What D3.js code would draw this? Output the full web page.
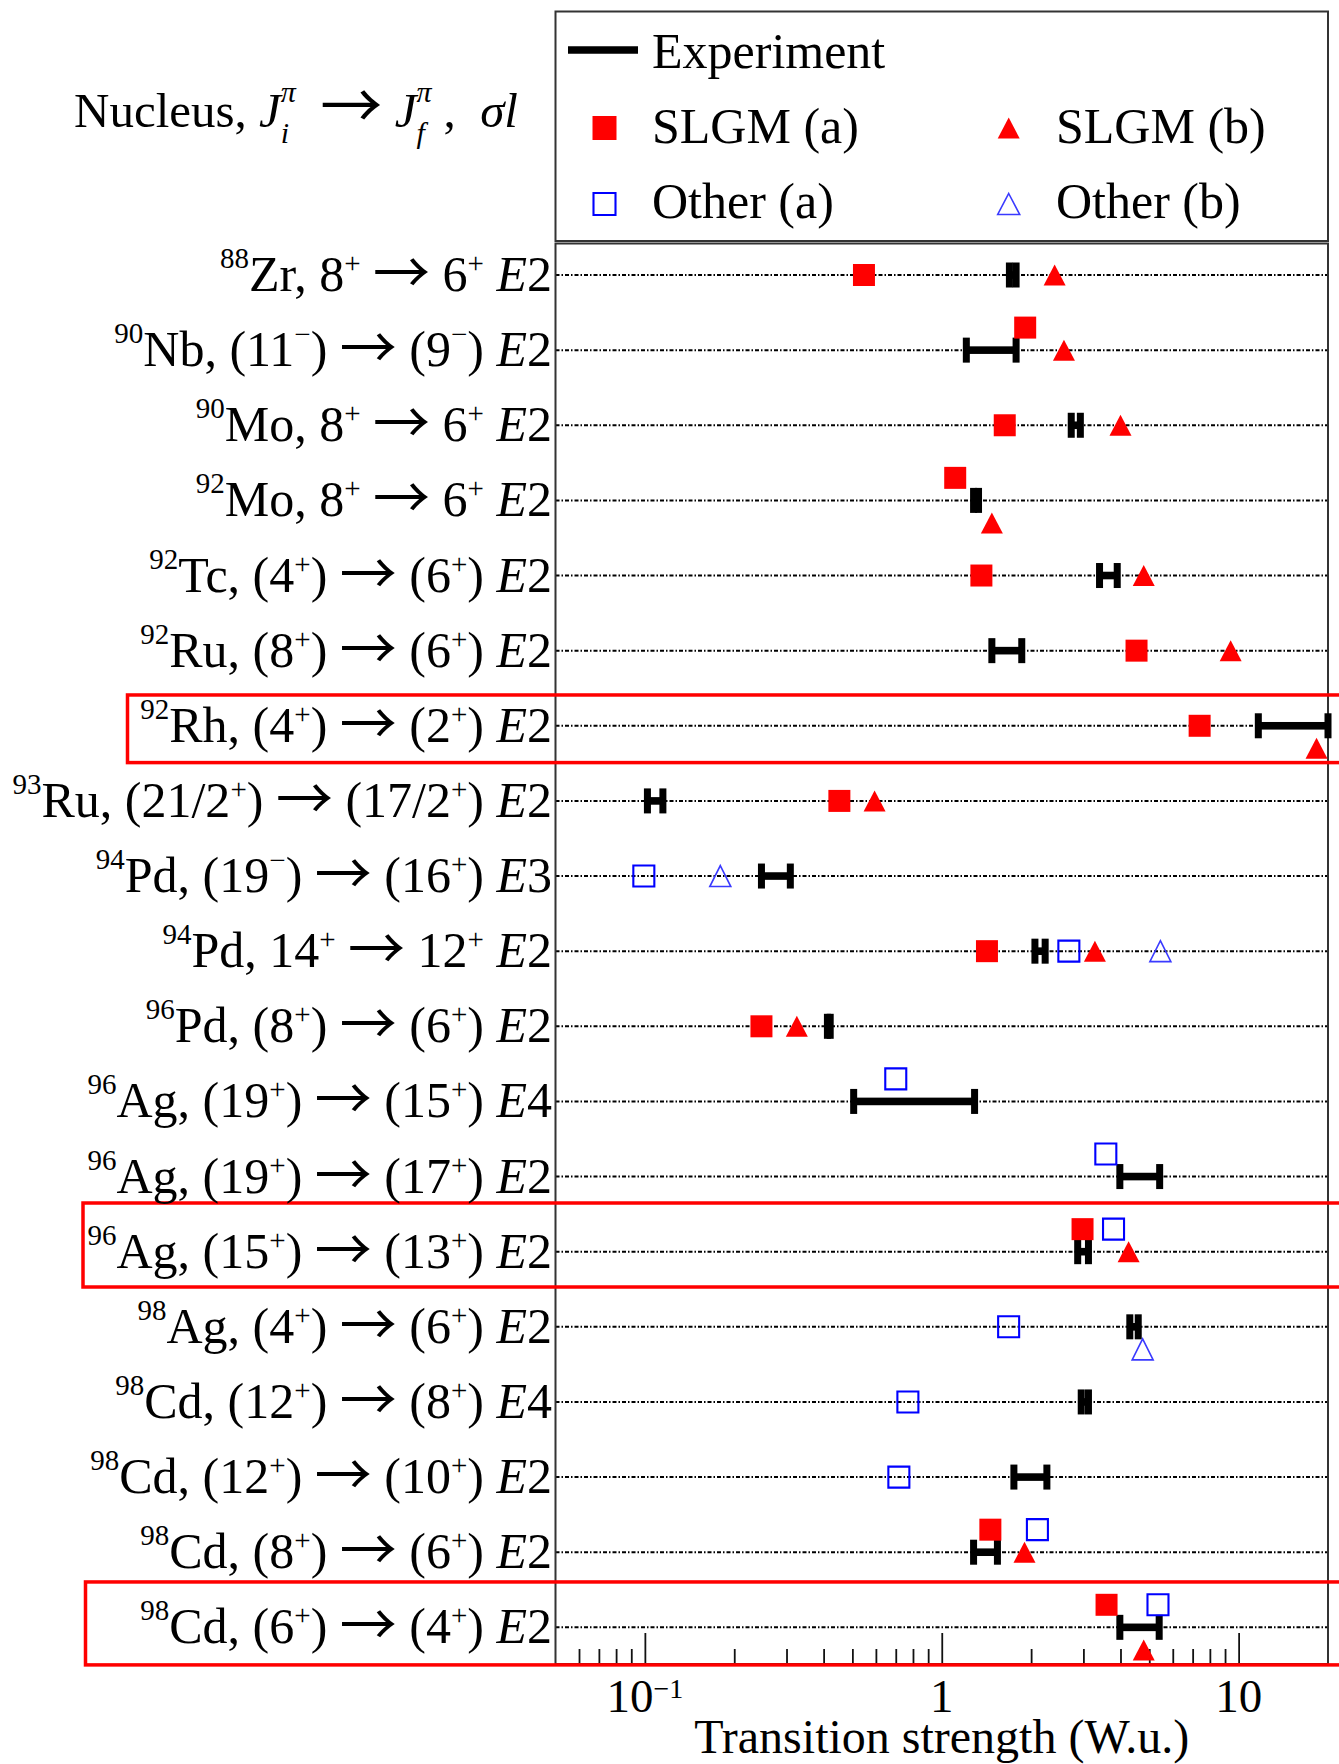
<!DOCTYPE html>
<html><head><meta charset="utf-8">
<script src="https://cdn.jsdelivr.net/npm/d3@7"></script>
<style>
html,body{margin:0;padding:0;background:#fff;}
svg{display:block;}
text{font-family:"Liberation Serif","Times New Roman",serif;fill:#000;white-space:pre;}
.arrow{font-family:"Noto Sans CJK JP","Noto Sans CJK SC",sans-serif;}
</style></head><body>
<svg id="chart" width="1339" height="1764"></svg>
<script>
// ---------------- data ----------------
const massNumbers = ["88","90","90","92","92","92","92","93","94","94","96","96","96","96","98","98","98","98","98"];
const elements = ["Zr","Nb","Mo","Mo","Tc","Ru","Rh","Ru","Pd","Pd","Pd","Ag","Ag","Ag","Ag","Cd","Cd","Cd","Cd"];
const initialSpins = ["8","11","8","8","4","8","4","21/2","19","14","8","19","19","15","4","12","12","8","6"];
const initialParities = ["+","\u2212","+","+","+","+","+","+","\u2212","+","+","+","+","+","+","+","+","+","+"];
const finalSpins = ["6","9","6","6","6","6","2","17/2","16","12","6","15","17","13","6","8","10","6","4"];
const finalParities = ["+","\u2212","+","+","+","+","+","+","+","+","+","+","+","+","+","+","+","+","+"];
const tentative = [false,true,false,false,true,true,true,true,true,false,true,true,true,true,true,true,true,true,true];
const multipolarities = ["E2","E2","E2","E2","E2","E2","E2","E2","E3","E2","E2","E4","E2","E2","E2","E4","E2","E2","E2"];

const expLow  = [1.69,1.21,2.73,1.28,3.40,1.475,11.65,0.102,0.247,2.06,0.412,0.505,3.98,2.87,4.30,2.95,1.75,1.28,3.98];
const expHigh = [1.78,1.78,2.93,1.33,3.90,1.86,20.0,0.115,0.309,2.23,0.421,1.29,5.42,3.12,4.59,3.12,2.26,1.54,5.40];

const slgmA      = [0.547,1.91,1.63,1.11,1.36,4.53,7.39,0.452,null,1.42,0.247,null,null,2.98,null,null,null,1.458,3.59];
const slgmAShift = [0,-0.3,0,-0.3,0,0,0,0,0,0,0,0,0,-0.3,0,0,0,-0.3,-0.3];
const slgmB      = [2.40,2.58,4.00,1.475,4.79,9.40,18.3,0.594,null,3.28,0.325,null,null,4.26,null,null,null,1.90,4.79];
const slgmBShift = [0,0,0,0.3,0,0,0.3,0,0,0,0,0,0,0,0,0,0,0,0.3];
const otherA      = [null,null,null,null,null,null,null,null,0.0992,2.68,null,0.70,3.57,3.79,1.68,0.769,0.717,2.10,5.35];
const otherAShift = [0,0,0,0,0,0,0,0,0,0,0,-0.3,-0.3,-0.3,0,0,0,-0.3,-0.3];
const otherB      = [null,null,null,null,null,null,null,null,0.1795,5.45,null,null,null,null,4.75,null,null,null,null];
const otherBShift = [0,0,0,0,0,0,0,0,0,0,0,0,0,0,0.3,0,0,0,0];

const majorTicks = [0.1,1,10];
const majorTickLabels = [["10","\u22121"],["1",""],["10",""]];
const minorTicks = [0.06,0.07,0.08,0.09,0.2,0.3,0.4,0.5,0.6,0.7,0.8,0.9,2,3,4,5,6,7,8,9];
const highlightRows = [6,13,18];
const highlightExtents = [[5.59,6.49],[12.352,13.47],[17.396,18.50]];

const legendItems = ["Experiment","SLGM (a)","SLGM (b)","Other (a)","Other (b)"];
const xTitle = "Transition strength (W.u.)";

// ---------------- layout ----------------
const plot = {left:555.5, right:1328, top:243.5, bottom:1664};
const svg = d3.select("#chart");
const x = d3.scaleLog().domain([0.05,20]).range([plot.left, plot.right]);
const y = d3.scaleLinear().domain([-0.426,18.488]).range([243,1664]);
const rows = d3.range(massNumbers.length);

const RED = "#ff0000", BLUE = "#0000ff";
function triPath(w,h){ return `M0,${-h/2}L${w/2},${h/2}L${-w/2},${h/2}Z`; }
function sqPath(s){ return `M${-s/2},${-s/2}h${s}v${s}h${-s}Z`; }

// grid (dotted row lines)
svg.append("g").selectAll("line").data(rows).join("line")
  .attr("x1",plot.left).attr("x2",plot.right)
  .attr("y1",d=>y(d)).attr("y2",d=>y(d))
  .attr("stroke","#000").attr("stroke-width",2)
  .attr("stroke-dasharray","4,2,1.5,2");

// axis ticks
const axG = svg.append("g").attr("transform",`translate(0,${plot.bottom})`);
axG.call(d3.axisBottom(x).tickValues(majorTicks).tickSizeInner(-31).tickSizeOuter(0).tickFormat(""));
const axMinor = svg.append("g").attr("transform",`translate(0,${plot.bottom})`);
axMinor.call(d3.axisBottom(x).tickValues(minorTicks).tickSizeInner(-15).tickSizeOuter(0).tickFormat(""));
[axG,axMinor].forEach(g=>{ g.select(".domain").remove(); g.selectAll(".tick line").attr("stroke","#111").attr("stroke-width",1.8); });

// frame
svg.append("rect").attr("x",plot.left).attr("y",plot.top).attr("width",plot.right-plot.left).attr("height",plot.bottom-plot.top)
  .attr("fill","none").attr("stroke","#333").attr("stroke-width",2);
// legend box
svg.append("rect").attr("x",plot.left).attr("y",11.5).attr("width",plot.right-plot.left).attr("height",229.5)
  .attr("fill","none").attr("stroke","#333").attr("stroke-width",2);

// tick labels
majorTicks.forEach((v,i)=>{
  const t = svg.append("text").attr("x",x(v)).attr("y",1711.7).attr("text-anchor","middle").style("font-size","47px");
  t.append("tspan").text(majorTickLabels[i][0]);
  if(majorTickLabels[i][1]) t.append("tspan").attr("font-size",28).attr("dy",-14).text(majorTickLabels[i][1]);
});
svg.append("text").attr("x",(plot.left+plot.right)/2).attr("y",1753).attr("text-anchor","middle")
  .style("font-size","48px").text(xTitle);

// experiment bars
const eg = svg.append("g");
rows.forEach(i=>{
  const x1=x(expLow[i]), x2=x(expHigh[i]), yy=y(i);
  eg.append("rect").attr("x",x1).attr("y",yy-3.8).attr("width",Math.max(0,x2-x1)).attr("height",7.6).attr("fill","#000");
  [x1,x2].forEach(cx=>eg.append("rect").attr("x",cx-3.5).attr("y",yy-12.5).attr("width",7).attr("height",25).attr("fill","#000"));
});

// markers
function drawSeries(vals, shifts, path, fill, stroke, sw){
  svg.append("g").selectAll("path").data(rows.filter(i=>vals[i]!=null)).join("path")
    .attr("transform",i=>`translate(${x(vals[i])},${y(i+shifts[i])})`)
    .attr("d",path).attr("fill",fill).attr("stroke",stroke).attr("stroke-width",sw);
}
drawSeries(slgmA, slgmAShift, sqPath(22), RED, "none", 0);
drawSeries(slgmB, slgmBShift, triPath(22,21), RED, "none", 0);
drawSeries(otherA, otherAShift, sqPath(21), "none", BLUE, 2.1);
drawSeries(otherB, otherBShift, triPath(21,21), "none", "#3a3aff", 1.6);

// highlight boxes
highlightRows.forEach((r,k)=>{
  const lefts=[127.5,83,85.5];
  const t=y(highlightExtents[k][0]), b=y(highlightExtents[k][1]);
  svg.append("rect").attr("x",lefts[k]).attr("y",t).attr("width",1360-lefts[k]).attr("height",b-t)
    .attr("fill","none").attr("stroke",RED).attr("stroke-width",3.5);
});

// row labels
rows.forEach(i=>{
  const t = svg.append("text").attr("x",552).attr("y",y(i)+16).attr("text-anchor","end").style("font-size","50px");
  const sup=29, riseA=23;
  const rp = p => p==="+"?18:22;
  const p = tentative[i];
  t.append("tspan").attr("font-size",sup).attr("dy",-riseA).text(massNumbers[i]);
  t.append("tspan").attr("dy",riseA).text(elements[i]+", "+(p?"(":"")+initialSpins[i]);
  t.append("tspan").attr("font-size",sup).attr("dy",-rp(initialParities[i])).text(initialParities[i]);
  t.append("tspan").attr("dy",rp(initialParities[i])).text((p?")":"")+" ");
  t.append("tspan").attr("class","arrow").attr("font-size",57).attr("dy",2).text("\u2192");
  t.append("tspan").attr("dy",-2).text(" "+(p?"(":"")+finalSpins[i]);
  t.append("tspan").attr("font-size",sup).attr("dy",-rp(finalParities[i])).text(finalParities[i]);
  t.append("tspan").attr("dy",rp(finalParities[i])).text((p?")":"")+" ");
  t.append("tspan").attr("font-style","italic").text(multipolarities[i][0]);
  t.append("tspan").text(multipolarities[i].slice(1));
});

// header
(function(){
  let cx=74; const yb=127, fs=49, ss=30;
  function put(txt,size,italic,dy,cls){
    const t=svg.append("text").attr("x",cx).attr("y",yb+(dy||0)).style("font-size",size+"px")
      .style("font-style",italic?"italic":"normal").text(txt);
    if(cls) t.attr("class",cls);
    return t.node().getComputedTextLength();
  }
  cx+=put("Nucleus, ",fs,false);
  cx+=put("J",fs,true);
  cx+=Math.max(put("\u03c0",ss,true,-25), put("i",ss,true,16));
  cx+=put("  ",fs,false);
  cx+=put("\u2192",62,false,2,"arrow");
  cx+=put(" ",fs,false);
  cx+=put("J",fs,true);
  cx+=Math.max(put("\u03c0",ss,true,-25), put("f",ss,true,16));
  cx+=12;
  cx+=put(",  ",fs,false);
  cx+=put("\u03c3",fs,true);
  put("l",fs,true);
})();

// legend
const lg = svg.append("g");
lg.append("line").attr("x1",568).attr("x2",638).attr("y1",50).attr("y2",50).attr("stroke","#000").attr("stroke-width",7.7);
lg.append("path").attr("transform","translate(604.5,128)").attr("d",sqPath(24)).attr("fill",RED);
lg.append("path").attr("transform","translate(1008.7,128)").attr("d",triPath(22,21)).attr("fill",RED);
lg.append("path").attr("transform","translate(604.5,204)").attr("d",sqPath(22)).attr("fill","none").attr("stroke",BLUE).attr("stroke-width",2.1);
lg.append("path").attr("transform","translate(1008.7,204)").attr("d",triPath(22,21)).attr("fill","none").attr("stroke","#3a3aff").attr("stroke-width",1.6);
const lpos=[[652,67.7],[652,142.7],[1056,142.7],[652,217.7],[1056,217.7]];
legendItems.forEach((s,i)=>lg.append("text").attr("x",lpos[i][0]).attr("y",lpos[i][1]).style("font-size","50px").text(s));
</script>
</body></html>
